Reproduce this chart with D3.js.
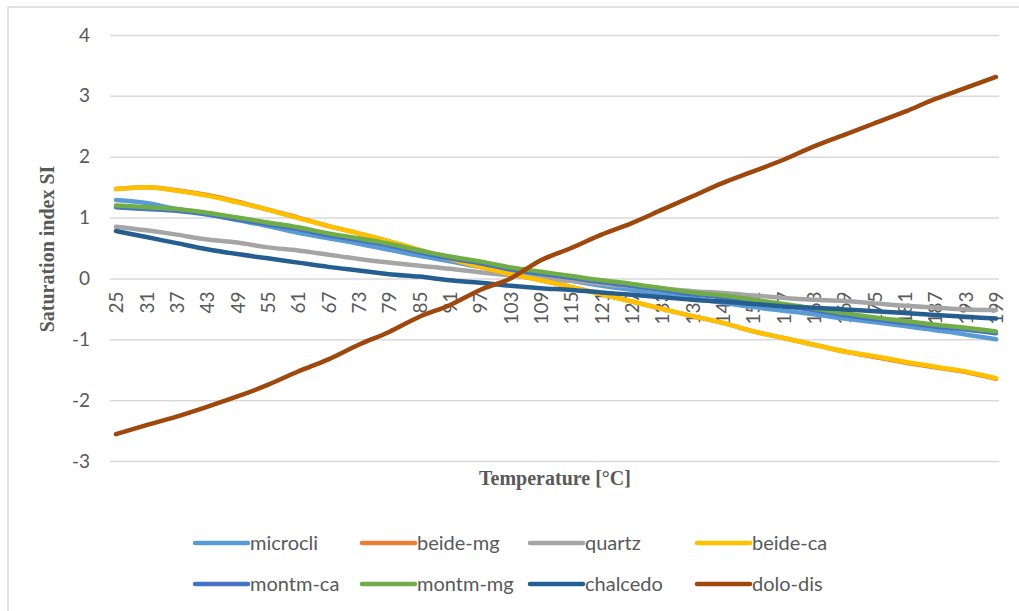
<!DOCTYPE html>
<html>
<head>
<meta charset="utf-8">
<script src="https://cdn.jsdelivr.net/npm/d3@7"></script>
<style>
  body { margin: 0; background: #fff; }
  svg { display: block; }
</style>
</head>
<body>
<svg id="chart" width="1019" height="611"></svg>
<script>
// temperatures shown on the category axis (every 6 °C)
const temps = [25, 31, 37, 43, 49, 55, 61, 67, 73, 79, 85, 91, 97, 103, 109,
  115, 121, 127, 133, 139, 145, 151, 157, 163, 169, 175, 181, 187, 193, 199];

const microcli = [1.29, 1.24, 1.14, 1.06, 0.96, 0.86, 0.75, 0.66, 0.57, 0.47, 0.37, 0.28, 0.19, 0.11, 0.03,
  -0.04, -0.12, -0.19, -0.26, -0.33, -0.40, -0.47, -0.53, -0.59, -0.66, -0.72, -0.78, -0.85, -0.92, -1.00];
const beideMg = [1.47, 1.50, 1.45, 1.37, 1.26, 1.13, 1.00, 0.86, 0.74, 0.61, 0.47, 0.32, 0.19, 0.07, -0.03,
  -0.14, -0.26, -0.38, -0.50, -0.62, -0.73, -0.87, -0.98, -1.09, -1.20, -1.29, -1.38, -1.46, -1.54, -1.65];
const quartz = [0.85, 0.79, 0.72, 0.64, 0.59, 0.51, 0.46, 0.39, 0.32, 0.26, 0.21, 0.16, 0.10, 0.05, 0.00,
  -0.04, -0.09, -0.13, -0.17, -0.21, -0.24, -0.28, -0.32, -0.35, -0.37, -0.41, -0.45, -0.48, -0.51, -0.52];
const beideCa = [1.47, 1.50, 1.44, 1.36, 1.25, 1.13, 0.99, 0.86, 0.74, 0.61, 0.47, 0.32, 0.19, 0.07, -0.03,
  -0.14, -0.26, -0.38, -0.50, -0.62, -0.73, -0.87, -0.98, -1.09, -1.20, -1.28, -1.37, -1.45, -1.53, -1.64];
const montmCa = [1.17, 1.14, 1.11, 1.05, 0.97, 0.89, 0.81, 0.71, 0.63, 0.54, 0.43, 0.33, 0.25, 0.15, 0.08,
  0.01, -0.06, -0.12, -0.19, -0.26, -0.31, -0.38, -0.45, -0.52, -0.60, -0.67, -0.73, -0.79, -0.84, -0.90];
const montmMg = [1.20, 1.17, 1.14, 1.08, 1.00, 0.92, 0.84, 0.74, 0.66, 0.57, 0.46, 0.36, 0.28, 0.18, 0.11,
  0.04, -0.03, -0.09, -0.16, -0.23, -0.28, -0.35, -0.42, -0.49, -0.57, -0.64, -0.70, -0.76, -0.81, -0.87];
const chalcedo = [0.78, 0.68, 0.58, 0.48, 0.40, 0.33, 0.26, 0.19, 0.13, 0.07, 0.03, -0.03, -0.07, -0.12, -0.16,
  -0.19, -0.23, -0.27, -0.31, -0.35, -0.38, -0.42, -0.46, -0.48, -0.51, -0.54, -0.57, -0.60, -0.63, -0.66];
const doloDis = [-2.56, -2.41, -2.27, -2.11, -1.94, -1.75, -1.53, -1.33, -1.09, -0.88, -0.63, -0.44, -0.19, 0.00, 0.30,
  0.50, 0.72, 0.91, 1.13, 1.35, 1.57, 1.76, 1.95, 2.17, 2.36, 2.55, 2.74, 2.95, 3.13, 3.31];

const yTicks = [-3, -2, -1, 0, 1, 2, 3, 4];

const series = [
  { name: 'microcli', values: microcli, color: '#5B9BD5' },
  { name: 'beide-mg', values: beideMg, color: '#ED7D31' },
  { name: 'quartz', values: quartz, color: '#A5A5A5' },
  { name: 'beide-ca', values: beideCa, color: '#FFC000' },
  { name: 'montm-ca', values: montmCa, color: '#4472C4' },
  { name: 'montm-mg', values: montmMg, color: '#70AD47' },
  { name: 'chalcedo', values: chalcedo, color: '#255E91' },
  { name: 'dolo-dis', values: doloDis, color: '#9E480E' }
];

const svg = d3.select('#chart');
const sans = 'Lato, Calibri, "Open Sans", sans-serif';
const serif = '"Liberation Serif", "Times New Roman", serif';
const textGrey = '#595959';

// chart frame (only top and left edges are inside the picture)
svg.append('path')
  .attr('d', 'M8,611V7H1019')
  .attr('fill', 'none')
  .attr('stroke', '#D9D9D9')
  .attr('stroke-width', 1.5);

const gridLeft = 110, gridRight = 999;
const x = d3.scaleLinear().domain([25, 199]).range([116, 996]);
const y = d3.scaleLinear().domain([-3, 4]).range([461, 35]);

// y axis + gridlines
const yAxis = svg.append('g')
  .attr('transform', `translate(${gridLeft},0)`)
  .call(d3.axisLeft(y).tickValues(yTicks).tickSize(-(gridRight - gridLeft)).tickPadding(20)
    .tickFormat(d => String(d)));
yAxis.select('.domain').remove();
yAxis.selectAll('.tick line').attr('stroke', '#D9D9D9').attr('stroke-width', 1.5);
yAxis.selectAll('.tick text')
  .attr('fill', textGrey)
  .style('font-family', sans)
  .style('font-size', '19px');

// category axis crossing at 0, labels rotated
const xAxis = svg.append('g')
  .attr('transform', `translate(0,${y(0)})`)
  .call(d3.axisBottom(x).tickValues(temps).tickSize(0).tickFormat(d => String(d)));
xAxis.select('.domain').remove();
xAxis.selectAll('.tick text')
  .attr('fill', textGrey)
  .style('font-family', sans)
  .style('font-size', '19px')
  .attr('text-anchor', 'end')
  .attr('transform', 'rotate(-90)')
  .attr('x', -13)
  .attr('y', 0)
  .attr('dy', '0.35em');

// lines
const line = d3.line()
  .x((d, i) => x(temps[i]))
  .y(d => y(d))
  .curve(d3.curveMonotoneX);

svg.append('g')
  .selectAll('path')
  .data(series)
  .join('path')
  .attr('d', d => line(d.values))
  .attr('fill', 'none')
  .attr('stroke', d => d.color)
  .attr('stroke-width', 4.5)
  .attr('stroke-linecap', 'round')
  .attr('stroke-linejoin', 'round');

// axis titles
svg.append('text')
  .attr('transform', 'translate(54,249) rotate(-90)')
  .attr('text-anchor', 'middle')
  .attr('fill', textGrey)
  .style('font-family', serif)
  .style('font-weight', 'bold')
  .style('font-size', '20px')
  .text('Saturation index SI');

svg.append('text')
  .attr('x', 555)
  .attr('y', 485)
  .attr('text-anchor', 'middle')
  .attr('fill', textGrey)
  .style('font-family', serif)
  .style('font-weight', 'bold')
  .style('font-size', '20px')
  .text('Temperature [°C]');

// legend: two rows of four
const legendCols = [195, 362, 530, 697];
const legendRows = [543, 584];
const legend = svg.append('g')
  .selectAll('g')
  .data(series)
  .join('g')
  .attr('transform', (d, i) => `translate(${legendCols[i % 4]},${legendRows[Math.floor(i / 4)]})`);

legend.append('line')
  .attr('x1', 0).attr('x2', 53)
  .attr('stroke', d => d.color)
  .attr('stroke-width', 4.5)
  .attr('stroke-linecap', 'round');

legend.append('text')
  .attr('x', 55)
  .attr('dy', '0.35em')
  .attr('fill', textGrey)
  .style('font-family', sans)
  .style('font-size', '20px')
  .text(d => d.name);
</script>
</body>
</html>
